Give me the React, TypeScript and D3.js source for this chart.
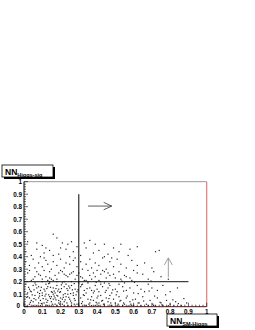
import React from 'react';
import * as d3 from 'd3';

// scatter of NN outputs (x = NN SM-Higgs, y = NN Higgs-sig)
const pointsHigh: [number, number][] = [
  [0.02, 0.52], [0.07, 0.51], [0.1, 0.49], [0.16, 0.58], [0.18, 0.55], [0.21, 0.51], [0.24, 0.5], [0.26, 0.52],
  [0.29, 0.48], [0.33, 0.51], [0.36, 0.53], [0.39, 0.5], [0.44, 0.5], [0.53, 0.5], [0.12, 0.47], [0.2, 0.47],
  [0.01, 0.44], [0.04, 0.41], [0.07, 0.46], [0.11, 0.43], [0.14, 0.45], [0.19, 0.42], [0.23, 0.46], [0.27, 0.44],
  [0.31, 0.41], [0.34, 0.47], [0.38, 0.43], [0.41, 0.45], [0.46, 0.42], [0.49, 0.47], [0.52, 0.44], [0.57, 0.41],
  [0.62, 0.48], [0.09, 0.4], [0.25, 0.4], [0.44, 0.4], [0.72, 0.44], [0.74, 0.45], [0.16, 0.41], [0.58, 0.46],
];

const pointsMid: [number, number][] = [
  [0.01, 0.36], [0.03, 0.33], [0.05, 0.38], [0.06, 0.31], [0.08, 0.35], [0.1, 0.32], [0.12, 0.37], [0.13, 0.34],
  [0.15, 0.3], [0.16, 0.36], [0.18, 0.33], [0.2, 0.38], [0.22, 0.31], [0.23, 0.35], [0.25, 0.34], [0.27, 0.37],
  [0.29, 0.32], [0.31, 0.36], [0.32, 0.3], [0.34, 0.34], [0.36, 0.38], [0.37, 0.31], [0.39, 0.35], [0.41, 0.33],
  [0.43, 0.39], [0.45, 0.3], [0.47, 0.36], [0.49, 0.32], [0.51, 0.38], [0.53, 0.34], [0.56, 0.31], [0.59, 0.37],
  [0.62, 0.33], [0.66, 0.35], [0.7, 0.31], [0.11, 0.39], [0.28, 0.39], [0.48, 0.39],
  [0.02, 0.27], [0.05, 0.22], [0.03, 0.29], [0.09, 0.25], [0.04, 0.21], [0.07, 0.28], [0.12, 0.24], [0.08, 0.26],
  [0.15, 0.22], [0.11, 0.29], [0.17, 0.25], [0.13, 0.21], [0.19, 0.27], [0.14, 0.23], [0.22, 0.26], [0.18, 0.22],
  [0.21, 0.28], [0.24, 0.24], [0.16, 0.21], [0.26, 0.27], [0.23, 0.25], [0.2, 0.29], [0.28, 0.22], [0.25, 0.26],
  [0.31, 0.24], [0.27, 0.28], [0.33, 0.21], [0.29, 0.25], [0.35, 0.29], [0.32, 0.23], [0.38, 0.27], [0.34, 0.21],
  [0.36, 0.25], [0.4, 0.29], [0.37, 0.22], [0.42, 0.26], [0.39, 0.24], [0.44, 0.28], [0.41, 0.21], [0.47, 0.25],
  [0.43, 0.29], [0.5, 0.23], [0.46, 0.27], [0.53, 0.22], [0.49, 0.26], [0.56, 0.24], [0.52, 0.28], [0.59, 0.21],
  [0.55, 0.25], [0.62, 0.27], [0.58, 0.23], [0.65, 0.26], [0.68, 0.22], [0.71, 0.28], [0.75, 0.24], [0.79, 0.22],
  [0.06, 0.24], [0.1, 0.22], [0.14, 0.28], [0.3, 0.27], [0.45, 0.23], [0.6, 0.29],
];

const pointsLow: [number, number][] = [
  [0.01, 0.18], [0.03, 0.14], [0.02, 0.11], [0.05, 0.17], [0.04, 0.12], [0.07, 0.15], [0.06, 0.19], [0.09, 0.13],
  [0.08, 0.16], [0.1, 0.11], [0.12, 0.18], [0.11, 0.14], [0.13, 0.16], [0.15, 0.12], [0.14, 0.19], [0.16, 0.15],
  [0.18, 0.17], [0.17, 0.11], [0.19, 0.14], [0.21, 0.19], [0.2, 0.12], [0.22, 0.16], [0.24, 0.13], [0.23, 0.18],
  [0.25, 0.15], [0.27, 0.11], [0.26, 0.17], [0.28, 0.14], [0.3, 0.19], [0.29, 0.12], [0.31, 0.16], [0.33, 0.13],
  [0.32, 0.18], [0.34, 0.11], [0.36, 0.15], [0.35, 0.19], [0.37, 0.13], [0.39, 0.17], [0.38, 0.11], [0.4, 0.14],
  [0.42, 0.18], [0.41, 0.12], [0.43, 0.16], [0.45, 0.13], [0.44, 0.19], [0.46, 0.15], [0.48, 0.11], [0.47, 0.17],
  [0.5, 0.14], [0.52, 0.18], [0.51, 0.12], [0.54, 0.16], [0.56, 0.13], [0.55, 0.19], [0.58, 0.15], [0.6, 0.11],
  [0.62, 0.17], [0.64, 0.14], [0.66, 0.12], [0.68, 0.18], [0.7, 0.15], [0.73, 0.13], [0.76, 0.17], [0.8, 0.12],
  [0.84, 0.15], [0.1, 0.2], [0.14, 0.2], [0.18, 0.2], [0.22, 0.2], [0.26, 0.2], [0.35, 0.2], [0.42, 0.2],
  [0.02, 0.08], [0.04, 0.05], [0.03, 0.02], [0.06, 0.09], [0.05, 0.04], [0.08, 0.07], [0.07, 0.01], [0.09, 0.05],
  [0.1, 0.09], [0.11, 0.03], [0.12, 0.06], [0.13, 0.01], [0.14, 0.08], [0.15, 0.04], [0.16, 0.06], [0.17, 0.02],
  [0.18, 0.09], [0.19, 0.05], [0.2, 0.07], [0.21, 0.02], [0.22, 0.04], [0.23, 0.08], [0.24, 0.01], [0.25, 0.06],
  [0.26, 0.03], [0.27, 0.09], [0.28, 0.05], [0.29, 0.02], [0.31, 0.07], [0.32, 0.04], [0.33, 0.09], [0.34, 0.01],
  [0.35, 0.06], [0.36, 0.03], [0.37, 0.08], [0.38, 0.05], [0.39, 0.01], [0.4, 0.07], [0.41, 0.03], [0.42, 0.09],
  [0.43, 0.05], [0.44, 0.02], [0.45, 0.07], [0.46, 0.04], [0.47, 0.09], [0.48, 0.01], [0.49, 0.06], [0.5, 0.03],
  [0.52, 0.08], [0.53, 0.05], [0.55, 0.02], [0.56, 0.07], [0.58, 0.04], [0.59, 0.01], [0.61, 0.06], [0.63, 0.03],
  [0.65, 0.08], [0.67, 0.02], [0.69, 0.05], [0.71, 0.01], [0.73, 0.07], [0.75, 0.03], [0.78, 0.05], [0.8, 0.02],
  [0.83, 0.04], [0.86, 0.01], [0.89, 0.03], [0.03, 0.07], [0.08, 0.03], [0.12, 0.1], [0.16, 0.1], [0.2, 0.04],
  [0.24, 0.1], [0.13, 0.05], [0.17, 0.07], [0.21, 0.06], [0.15, 0.08], [0.19, 0.03],
  [0.01, 0.005], [0.05, 0.01], [0.09, 0.008], [0.12, 0.012], [0.15, 0.006], [0.18, 0.01], [0.22, 0.007], [0.26, 0.011],
  [0.3, 0.006], [0.33, 0.012], [0.37, 0.008], [0.41, 0.01], [0.44, 0.006], [0.47, 0.012], [0.51, 0.008], [0.54, 0.01],
  [0.57, 0.006], [0.6, 0.011], [0.64, 0.008], [0.68, 0.01], [0.72, 0.006], [0.76, 0.01], [0.79, 0.008], [0.82, 0.006],
];

// the dense core near the origin
const pointsCore: [number, number][] = [
  [0.055, 0.135], [0.085, 0.105], [0.115, 0.125], [0.135, 0.095], [0.165, 0.125], [0.185, 0.085], [0.205, 0.145],
  [0.225, 0.105], [0.245, 0.075], [0.265, 0.135], [0.285, 0.095], [0.145, 0.155], [0.175, 0.055], [0.105, 0.065],
  [0.075, 0.115], [0.045, 0.095], [0.125, 0.035], [0.155, 0.115], [0.195, 0.115], [0.215, 0.075], [0.235, 0.145],
  [0.255, 0.045], [0.275, 0.065], [0.095, 0.155], [0.065, 0.055], [0.035, 0.125], [0.015, 0.075], [0.025, 0.155],
  [0.325, 0.095], [0.345, 0.145], [0.365, 0.055], [0.385, 0.125], [0.405, 0.085], [0.425, 0.045], [0.445, 0.115],
  [0.465, 0.065], [0.485, 0.135], [0.505, 0.095], [0.525, 0.045], [0.545, 0.125], [0.565, 0.085], [0.595, 0.055],
  [0.625, 0.105], [0.655, 0.045], [0.685, 0.125], [0.715, 0.085], [0.745, 0.035], [0.775, 0.095], [0.815, 0.055],
  [0.845, 0.025], [0.875, 0.065], [0.135, 0.185], [0.205, 0.175], [0.275, 0.185], [0.315, 0.175], [0.395, 0.195],
  [0.465, 0.185], [0.535, 0.205], [0.605, 0.195], [0.695, 0.205], [0.035, 0.035], [0.095, 0.025], [0.155, 0.02],
  [0.195, 0.02], [0.235, 0.03], [0.275, 0.02], [0.315, 0.025], [0.355, 0.02], [0.395, 0.035], [0.435, 0.02],
  [0.475, 0.03], [0.515, 0.02], [0.545, 0.03], [0.585, 0.02], [0.625, 0.03], [0.705, 0.02], [0.755, 0.015],
  [0.145, 0.065], [0.165, 0.085], [0.185, 0.125], [0.125, 0.145], [0.085, 0.085], [0.055, 0.065], [0.225, 0.055],
  [0.255, 0.105], [0.295, 0.135], [0.115, 0.085], [0.175, 0.145], [0.215, 0.095], [0.245, 0.165], [0.065, 0.175],
];

const points = [...pointsHigh, ...pointsMid, ...pointsLow, ...pointsCore];

const tickValues = [0, 0.1, 0.2, 0.3, 0.4, 0.5, 0.6, 0.7, 0.8, 0.9, 1];
const tickLabels = ['0', '0.1', '0.2', '0.3', '0.4', '0.5', '0.6', '0.7', '0.8', '0.9', '1'];

// cut lines and arrows
const cutX = 0.3;
const cutY = 0.2;
const cutEnd = 0.9;
const arrowRight = { x0: 0.35, x1: 0.48, y: 0.805 };
const arrowUp = { x: 0.79, y0: 0.235, y1: 0.39 };

const App: React.FC = () => {
  const width = 255;
  const height = 330;
  const x = d3.scaleLinear().domain([0, 1]).range([24, 206.7]);
  const y = d3.scaleLinear().domain([0, 1]).range([306.7, 181.7]);
  const minor = d3.range(0, 1.0001, 0.02);
  const font = 'Liberation Sans, Arial, sans-serif';

  const ax1 = x(arrowRight.x1);
  const ay1 = y(arrowRight.y);
  const ux = x(arrowUp.x);
  const uy1 = y(arrowUp.y1);

  return (
    <svg
      width={width}
      height={height}
      style={{ position: 'absolute', left: 0, top: 0, background: '#fff' }}
    >
      {/* frame */}
      <line x1={x(0)} x2={x(1)} y1={y(1)} y2={y(1)} stroke="#999" strokeWidth={1} />
      <line x1={x(1)} x2={x(1)} y1={y(1)} y2={y(0)} stroke="#e07a7a" strokeWidth={1.2} />
      <line x1={x(0)} x2={x(1)} y1={y(0)} y2={y(0)} stroke="#5a1010" strokeWidth={1} />
      <line x1={x(0)} x2={x(0)} y1={y(1)} y2={y(0)} stroke="#000" strokeWidth={1} />

      {/* y ticks */}
      {minor.map((v, i) => (
        <line key={'ym' + i} x1={x(0)} x2={x(0) + (i % 5 === 0 ? 4 : 2)} y1={y(v)} y2={y(v)} stroke="#000" strokeWidth={0.6} />
      ))}
      {/* x ticks */}
      {minor.map((v, i) => (
        <line key={'xm' + i} x1={x(v)} x2={x(v)} y1={y(0)} y2={y(0) - (i % 5 === 0 ? 4 : 2)} stroke="#000" strokeWidth={0.6} />
      ))}

      {tickValues.map((v, i) => (
        <text
          key={'yl' + i}
          x={v === 0 ? x(0) - 4 : x(0) - 2}
          y={y(v) + (v === 0 ? 1 : 2.3)}
          textAnchor="end"
          fontFamily={font}
          fontSize={6.3}
          fontWeight="bold"
          fill="#000"
        >
          {tickLabels[i]}
        </text>
      ))}
      {tickValues.map((v, i) => (
        <text
          key={'xl' + i}
          x={x(v)}
          y={y(0) + 7}
          textAnchor="middle"
          fontFamily={font}
          fontSize={6.3}
          fontWeight="bold"
          fill="#000"
        >
          {tickLabels[i]}
        </text>
      ))}

      {/* points */}
      {points.map((p, i) => (
        <rect key={'p' + i} x={x(p[0]) - 0.6} y={y(p[1]) - 0.6} width={1.2} height={1.2} fill="#222" />
      ))}

      {/* cut lines */}
      <line x1={x(cutX)} x2={x(cutX)} y1={y(0)} y2={y(cutEnd)} stroke="#000" strokeWidth={1} />
      <line x1={x(0)} x2={x(cutEnd)} y1={y(cutY)} y2={y(cutY)} stroke="#111" strokeWidth={1} />

      {/* arrows */}
      <g stroke="#333" strokeWidth={0.8} fill="none">
        <line x1={x(arrowRight.x0)} x2={ax1} y1={ay1} y2={ay1} />
        <polyline points={`${ax1 - 8},${ay1 - 3.7} ${ax1},${ay1} ${ax1 - 8},${ay1 + 3.7}`} />
      </g>
      <g stroke="#888" strokeWidth={0.8} fill="none">
        <line x1={ux} x2={ux} y1={y(arrowUp.y0)} y2={uy1} />
        <polyline points={`${ux - 4},${uy1 + 7} ${ux},${uy1} ${ux + 4},${uy1 + 7}`} />
      </g>

      {/* axis title boxes */}
      <g>
        <rect x={4} y={167} width={51} height={12} fill="#000" />
        <rect x={2} y={165} width={51} height={12} fill="#fff" stroke="#000" strokeWidth={0.8} />
        <text x={5} y={174.5} fontFamily={font} fontWeight="bold" fontSize={8.5} fill="#000">
          NN
          <tspan fontSize={5.5} dy={2}>Higgs-sig</tspan>
        </text>
      </g>
      <g>
        <rect x={169} y={316} width={50} height={12} fill="#000" />
        <rect x={167} y={314} width={50} height={12} fill="#fff" stroke="#000" strokeWidth={0.8} />
        <text x={170} y={323.5} fontFamily={font} fontWeight="bold" fontSize={8.5} fill="#000">
          NN
          <tspan fontSize={5.5} dy={2}>SM-Higgs</tspan>
        </text>
      </g>
    </svg>
  );
};

export default App;
